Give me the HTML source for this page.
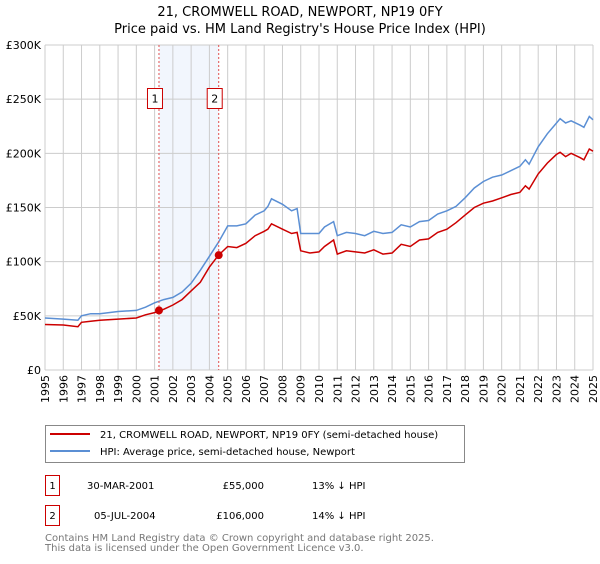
<!DOCTYPE html>
<html><head><meta charset="utf-8"><style>
body{margin:0;background:#fff;font-family:"DejaVu Sans","Liberation Sans",sans-serif;}
svg text{font-family:"DejaVu Sans","Liberation Sans",sans-serif;}
</style></head><body>
<svg id="chart" width="600" height="560" xmlns="http://www.w3.org/2000/svg">
<text x="300" y="16" text-anchor="middle" font-size="13">21, CROMWELL ROAD, NEWPORT, NP19 0FY</text>
<text x="300" y="33" text-anchor="middle" font-size="13">Price paid vs. HM Land Registry's House Price Index (HPI)</text>
<g id="grid"></g><g id="series"></g><g id="ann"></g>
<g>
<rect x="45.5" y="425.5" width="419" height="37" fill="#fff" stroke="#888"/>
<line x1="50" y1="434" x2="90" y2="434" stroke="#cc0000" stroke-width="2"/>
<text x="100" y="438" font-size="10">21, CROMWELL ROAD, NEWPORT, NP19 0FY (semi-detached house)</text>
<line x1="50" y1="451" x2="90" y2="451" stroke="#5b8fd4" stroke-width="2"/>
<text x="100" y="455" font-size="10">HPI: Average price, semi-detached house, Newport</text>
</g>
<g font-size="10">
<rect x="45.5" y="475.5" width="14" height="20" fill="#fff" stroke="#cc0000"/>
<text x="52.5" y="489" text-anchor="middle">1</text>
<text x="87" y="489">30-MAR-2001</text><text x="264" y="489" text-anchor="end">£55,000</text><text x="312" y="489">13% ↓ HPI</text>
<rect x="45.5" y="505.5" width="14" height="20" fill="#fff" stroke="#cc0000"/>
<text x="52.5" y="519" text-anchor="middle">2</text>
<text x="94" y="519">05-JUL-2004</text><text x="264" y="519" text-anchor="end">£106,000</text><text x="312" y="519">14% ↓ HPI</text>
</g>
<text x="45" y="541" font-size="10" fill="#777">Contains HM Land Registry data © Crown copyright and database right 2025.</text>
<text x="45" y="551" font-size="10" fill="#777">This data is licensed under the Open Government Licence v3.0.</text>
</svg>
<script>
const yTicks=[0,50000,100000,150000,200000,250000,300000];
const yTickLabels=["£0","£50K","£100K","£150K","£200K","£250K","£300K"];
const xYears=[1995,1996,1997,1998,1999,2000,2001,2002,2003,2004,2005,2006,2007,2008,2009,2010,2011,2012,2013,2014,2015,2016,2017,2018,2019,2020,2021,2022,2023,2024,2025];
const hpiT=[1995,1996,1996.8,1997,1997.5,1998,1999,2000,2000.5,2001,2001.5,2002,2002.5,2003,2003.5,2004,2004.5,2005,2005.5,2006,2006.5,2007,2007.2,2007.4,2008,2008.5,2008.8,2009,2009.5,2010,2010.3,2010.8,2011,2011.5,2012,2012.5,2013,2013.5,2014,2014.5,2015,2015.5,2016,2016.5,2017,2017.5,2018,2018.5,2019,2019.5,2020,2020.5,2021,2021.3,2021.5,2022,2022.5,2023,2023.2,2023.5,2023.8,2024.3,2024.5,2024.8,2025];
const hpiV=[48,47,46,50,52,52,54,55,58,62,65,67,72,80,92,105,118,133,133,135,143,147,151,158,153,147,149,126,126,126,132,137,124,127,126,124,128,126,127,134,132,137,138,144,147,151,159,168,174,178,180,184,188,194,190,206,218,228,232,228,230,226,224,234,231];
const propV=[42,41.5,40,44,45,46,47,48,51,53,56,60,65,73,81,95,106,114,113,117,124,128,130,135,130,126,127,110,108,109,114,120,107,110,109,108,111,107,108,116,114,120,121,127,130,136,143,150,154,156,159,162,164,170,167,181,191,199,201,197,200,196,194,204,202];
const sales=[{t:2001.24,v:55000,label:"1"},{t:2004.51,v:106000,label:"2"}];
const X0=45,X1=593,Y0=370,Y1=45;
const xs=t=>X0+(t-1995)/30*(X1-X0);
const ys=v=>Y0-v/300000*(Y0-Y1);
const NS="http://www.w3.org/2000/svg";
function mk(tag,attrs,parent,txt){const e=document.createElementNS(NS,tag);for(const k in attrs)e.setAttribute(k,attrs[k]);if(txt!==undefined)e.textContent=txt;parent.appendChild(e);return e;}
const grid=document.getElementById('grid'),ser=document.getElementById('series'),ann=document.getElementById('ann');
const band=mk('rect',{x:xs(sales[0].t),y:Y1,width:xs(sales[1].t)-xs(sales[0].t),height:Y0-Y1,fill:'#f2f6fd'},grid);


yTicks.forEach((v,i)=>{
 const l=mk('line',{x1:X0,x2:X1,y1:ys(v),y2:ys(v),stroke:'#cccccc'},grid);
 
 
 const t=mk('text',{x:X0-4,y:ys(v)+4,'text-anchor':'end','font-size':'11'},grid,yTickLabels[i]);
 
 
});
xYears.forEach(yr=>{
 const l=mk('line',{x1:xs(yr),x2:xs(yr),y1:Y1,y2:Y0,stroke:'#cccccc'},grid);
 
 
 const x=xs(yr)+4,y=Y0+5;
 const t=mk('text',{x:x,y:y,'text-anchor':'end','font-size':'11',transform:`rotate(-90 ${x} ${y})`},grid,String(yr));
 
 
});
function path(T,V,col,name){
 const d=T.map((t,i)=>(i?'L':'M')+xs(t).toFixed(1)+' '+ys(V[i]*1000).toFixed(1)).join(' ');
 const p=mk('path',{d:d,fill:'none',stroke:col,'stroke-width':1.5},ser);
 
 
}
path(hpiT,hpiV,'#5b8fd4','hpi-line');
path(hpiT,propV,'#cc0000','property-price-line');
sales.forEach(s=>{
 const l=mk('line',{x1:xs(s.t),x2:xs(s.t),y1:Y1,y2:Y0,stroke:'#e05050','stroke-dasharray':'2,2'},ann);
 
 
 const c=mk('circle',{cx:xs(s.t),cy:ys(s.v),r:4,fill:'#cc0000'},ann);
 
 
 const r=mk('rect',{x:xs(s.t)-11.5,y:88.5,width:15,height:20,fill:'#fff',stroke:'#cc0000'},ann);
 
 
 const t=mk('text',{x:xs(s.t)-4,y:102.5,'text-anchor':'middle','font-size':'11'},ann,s.label);
 
 
});
</script>
</body></html>
